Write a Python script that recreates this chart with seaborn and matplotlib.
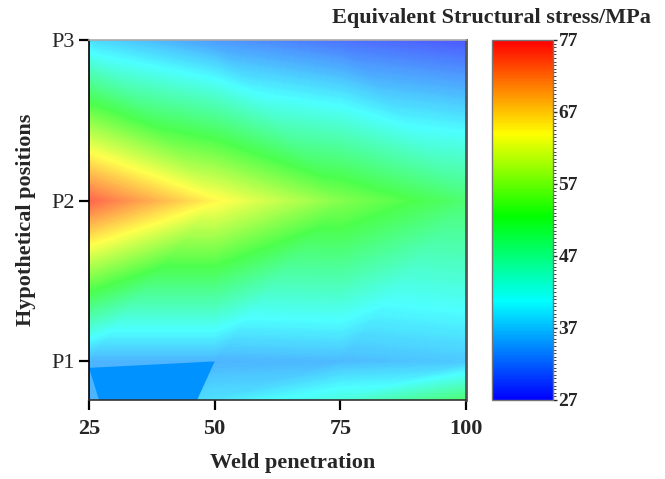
import numpy as np
import matplotlib
matplotlib.use("Agg")
import matplotlib.pyplot as plt
import matplotlib.tri as mtri
from matplotlib.colors import LinearSegmentedColormap, Normalize, to_rgb
from matplotlib.ticker import MultipleLocator
import seaborn as sns

# Weld penetration levels (x) and hypothetical positions (y)
penetration = [25, 50, 75, 100]
position_levels = [0.76, 1.0, 2.0, 3.0]
position_ticks = [1.0, 2.0, 3.0]
position_labels = ["P1", "P2", "P3"]

# Equivalent structural stress (MPa), one row per position level
stress_root = [35.0, 38.5, 43.0, 50.0]
stress_p1 = [35.0, 35.0, 35.5, 36.5]
stress_p2 = [75.0, 64.5, 56.0, 50.0]
stress_p3 = [38.0, 33.0, 30.0, 28.0]

# Low-stress pocket under the weld root
pocket_x = [25.0, 50.0, 46.5, 27.0]
pocket_y = [0.96, 1.0, 0.76, 0.76]
pocket_stress = 35.0

cbar_ticks = [27, 37, 47, 57, 67, 77]
vmin, vmax = 27, 77

sns.set_style("ticks")
plt.rcParams["font.family"] = ["Liberation Serif", "DejaVu Serif"]

stops = [(0.0, "#0000ff"), (0.274, "#00ffff"), (0.51, "#00ff00"),
         (0.74, "#ffff00"), (1.0, "#ff0000")]
rainbow = LinearSegmentedColormap.from_list("stress_rainbow", stops)


def washed(color, a=0.7):
    r, g, b = to_rgb(color)
    return (a * r + 1 - a, a * g + 1 - a, a * b + 1 - a)


# Same scale, blended 70 % over white for the field itself
rainbow_light = LinearSegmentedColormap.from_list(
    "stress_rainbow_light", [(p, washed(c)) for p, c in stops])
norm = Normalize(vmin=vmin, vmax=vmax)

fig = plt.figure(figsize=(6.65, 4.79), dpi=100)
ax = fig.add_axes([89 / 665, 79 / 479, 377 / 665, 360 / 479])
cax = fig.add_axes([492 / 665, 79 / 479, 61 / 665, 360 / 479])

# Linear interpolation over a triangulated grid
X, Y = np.meshgrid(penetration, position_levels)
Z = np.array([stress_root, stress_p1, stress_p2, stress_p3])
nx = len(penetration)
triangles = []
for j in range(len(position_levels) - 1):
    for i in range(nx - 1):
        a, b = j * nx + i, j * nx + i + 1
        d, c = (j + 1) * nx + i, (j + 1) * nx + i + 1
        if position_levels[j] >= 2.0:
            triangles += [[a, b, d], [b, c, d]]
        else:
            triangles += [[a, b, c], [a, c, d]]
tri = mtri.Triangulation(X.ravel(), Y.ravel(), triangles)
ax.tricontourf(tri, Z.ravel(), levels=np.linspace(vmin, vmax, 301),
               cmap=rainbow_light, norm=norm, extend="both", antialiased=False)
ax.fill(pocket_x, pocket_y, color=rainbow(norm(pocket_stress)), lw=0, zorder=2)

ax.set_xlim(penetration[0], penetration[-1])
ax.set_ylim(position_levels[0], position_levels[-1])
ax.set_xticks(penetration)
ax.set_xticklabels([str(p) for p in penetration], fontsize=16, fontweight="bold")
ax.set_yticks(position_ticks)
ax.set_yticklabels(position_labels, fontsize=16)
ax.tick_params(axis="both", direction="out", length=7, width=1.6, color="black")
ax.tick_params(axis="x", pad=7)
ax.tick_params(axis="y", pad=3)

ax.set_xlabel("Weld penetration", fontsize=16, fontweight="bold")
ax.xaxis.set_label_coords((293 - 89) / 377, -0.148)
ax.set_ylabel("Hypothetical positions", fontsize=16, fontweight="bold")
ax.yaxis.set_label_coords((36 - 89) / 377, 0.5)

for spine in ax.spines.values():
    spine.set_visible(True)
    spine.set_zorder(5)
ax.spines["left"].set_color("black")
ax.spines["left"].set_linewidth(1.2)
ax.spines["bottom"].set_color("#333333")
ax.spines["bottom"].set_linewidth(1.2)
ax.spines["top"].set_color("#aaaaaa")
ax.spines["top"].set_linewidth(1.2)
ax.spines["right"].set_color("#555555")
ax.spines["right"].set_linewidth(2.0)

sm = matplotlib.cm.ScalarMappable(norm=norm, cmap=rainbow)
cb = fig.colorbar(sm, cax=cax, ticks=cbar_ticks)
cb.outline.set_edgecolor("#777777")
cb.outline.set_linewidth(1.0)
cax.yaxis.set_minor_locator(MultipleLocator(0.5))
cax.tick_params(which="major", length=3, width=1, direction="out", pad=1)
cax.tick_params(which="minor", length=2, width=0.6, direction="out")
for lbl in cax.get_yticklabels():
    lbl.set_fontsize(14)
    lbl.set_fontweight("bold")

fig.text(491 / 665, 1 - 18 / 479, "Equivalent Structural stress/MPa",
         ha="center", va="center", fontsize=16, fontweight="bold")

fig.savefig("out.png", dpi=100)
